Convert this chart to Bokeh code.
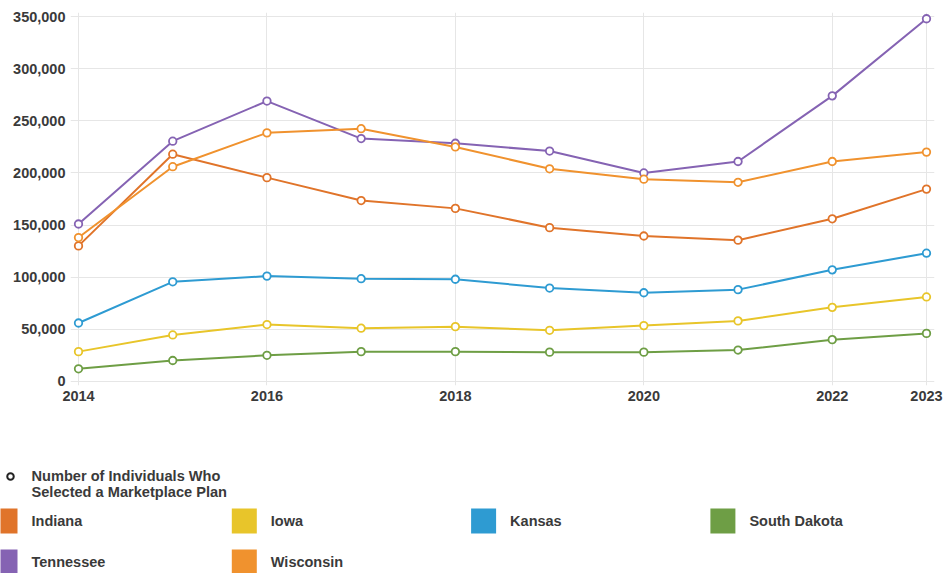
from bokeh.plotting import figure
from bokeh.models import Range1d, FixedTicker, NumeralTickFormatter, ColumnDataSource
from bokeh.layouts import column
from bokeh.embed import file_html
from bokeh.resources import INLINE
from bokeh.core.properties import value

# ---------------- data ----------------
years = [2014, 2015, 2016, 2017, 2018, 2019, 2020, 2021, 2022, 2023]
x_ticks = [2014, 2016, 2018, 2020, 2022, 2023]
y_ticks = [0, 50000, 100000, 150000, 200000, 250000, 300000, 350000]

states = ["Indiana", "Iowa", "Kansas", "South Dakota", "Tennessee", "Wisconsin"]
colors = ["#E0742A", "#E8C52A", "#2E9BD2", "#6E9E45", "#8563B3", "#F0922E"]

indiana = [130000, 218000, 195500, 173500, 166000, 147500, 139500, 135500, 156000, 184500]
iowa = [28500, 44500, 54500, 51000, 52500, 49000, 53500, 58000, 71000, 81000]
kansas = [56000, 95500, 101000, 98500, 98000, 89500, 85000, 88000, 107000, 123000]
south_dakota = [12000, 20000, 25000, 28500, 28500, 28000, 28000, 30000, 40000, 46000]
tennessee = [151000, 230500, 269000, 233000, 228500, 221000, 200000, 211000, 274000, 348000]
wisconsin = [138000, 206000, 238500, 242500, 225000, 204000, 194000, 191000, 211000, 220000]

legend_title = ["Number of Individuals Who", "Selected a Marketplace Plan"]

series = [indiana, iowa, kansas, south_dakota, tennessee, wisconsin]

FONT = "Liberation Sans"
TXT = "#3a3a3a"

# ---------------- chart ----------------
p = figure(width=948, height=410, output_backend="svg", toolbar_location=None,
           x_range=Range1d(2013.915, 2023.085), y_range=Range1d(-4000, 354000),
           min_border_left=70, min_border_right=14, min_border_top=12,
           min_border_bottom=25)
p.outline_line_color = None
p.background_fill_color = "white"
p.xaxis.ticker = FixedTicker(ticks=x_ticks)
p.yaxis.ticker = FixedTicker(ticks=y_ticks)
p.yaxis.formatter = NumeralTickFormatter(format="0,0")
for ax in p.axis:
    ax.axis_line_color = None
    ax.major_tick_line_color = None
    ax.minor_tick_line_color = None
    ax.major_tick_out = 0
    ax.major_tick_in = 0
    ax.major_label_text_font = FONT
    ax.major_label_text_font_size = "14.5px"
    ax.major_label_text_font_style = "bold"
    ax.major_label_text_color = TXT
p.xaxis.major_label_standoff = 5
p.yaxis.major_label_standoff = 5
p.grid.grid_line_color = "#e6e6e6"
p.grid.grid_line_width = 1

for name, vals, col in zip(states, series, colors):
    src = ColumnDataSource(dict(x=years, y=vals))
    p.line("x", "y", source=src, line_color=col, line_width=2)
    p.scatter("x", "y", source=src, marker="circle", size=7.5,
              fill_color="white", line_color=col, line_width=1.8)

# ---------------- legend ----------------
leg = figure(width=948, height=163, output_backend="svg", toolbar_location=None,
             x_range=Range1d(0, 948), y_range=Range1d(163, 0),
             x_axis_type=None, y_axis_type=None, min_border=0,
             min_border_left=0, min_border_right=0, min_border_top=0,
             min_border_bottom=0)
leg.outline_line_color = None
leg.grid.grid_line_color = None
try:
    leg.frame_align = False
    p.frame_align = False
except Exception:
    pass

# header item
leg.scatter([10], [66], marker="circle", size=6.5, fill_color="white",
            line_color="#222222", line_width=2)
leg.text([31, 31], [65.5, 81.5], text=legend_title, text_font=value(FONT),
         text_font_size="14.6px", text_font_style="bold", text_color=TXT,
         text_baseline="middle", text_align="left")

col_step = 239.3
row_y = [110.5, 151.5]
sx, sy, tx, ty = [], [], [], []
for i, name in enumerate(states):
    c = i % 4
    r = i // 4
    sx.append(4.5 + c * col_step)
    sy.append(row_y[r])
    tx.append(31 + c * col_step)
    ty.append(row_y[r])
leg.rect(sx, sy, width=25, height=25, fill_color=colors, line_color=None)
leg.text(tx, ty, text=states, text_font=value(FONT), text_font_size="14.5px",
         text_font_style="bold", text_color=TXT, text_baseline="middle",
         text_align="left")

layout = column(p, leg, spacing=0)
open("out.html", "w").write(file_html(layout, INLINE))
